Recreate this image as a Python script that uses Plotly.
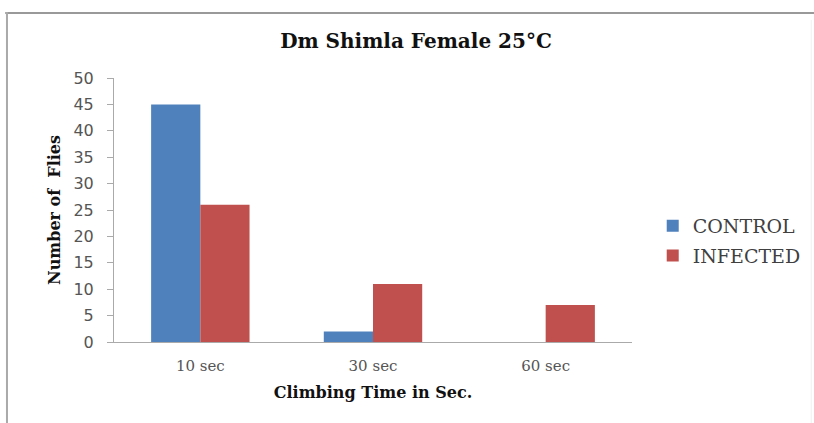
import plotly.graph_objects as go

categories = ["10 sec", "30 sec", "60 sec"]
control = [45, 2, 0]
infected = [26, 11, 7]
y_ticks = [0, 5, 10, 15, 20, 25, 30, 35, 40, 45, 50]

serif = "DejaVu Serif, Liberation Serif, serif"
sans = "DejaVu Sans, Verdana, sans-serif"

fig = go.Figure()
fig.add_trace(go.Bar(x=categories, y=control, name="CONTROL", marker_color="#4F81BD",
                     marker_line_width=0, legendgroup="a"))
fig.add_trace(go.Bar(x=categories, y=infected, name="INFECTED", marker_color="#C0504D",
                     marker_line_width=0, legendgroup="b"))

fig.update_layout(
    width=814, height=423,
    margin=dict(l=114, r=182, t=78, b=81, autoexpand=False),
    paper_bgcolor="white", plot_bgcolor="white",
    barmode="group", bargap=0.43, bargroupgap=0,
    title=dict(text="<b>Dm Shimla Female 25°C</b>", x=0.583, xanchor="center",
               xref="paper", y=0.903, yref="container", yanchor="middle",
               font=dict(family=serif, size=20, color="#111111")),
    legend=dict(x=1.04, xanchor="left", y=0.383, yanchor="middle",
                font=dict(family=serif, size=19, color="#404040"),
                tracegroupgap=2, traceorder="grouped", itemwidth=30,
                bgcolor="rgba(0,0,0,0)"),
    showlegend=True,
)
fig.update_xaxes(showline=True, linecolor="#aaaaaa", linewidth=1, ticks="",
                 ticklabelstandoff=10,
                 tickfont=dict(family=serif, size=15, color="#555555"),
                 title=dict(text="<b>Climbing Time in Sec.</b>", standoff=12,
                            font=dict(family=serif, size=16, color="#111111")),
                 showgrid=False)
fig.update_yaxes(range=[0, 50], tickvals=y_ticks, showline=True, linecolor="#aaaaaa",
                 linewidth=1, ticks="outside", ticklen=6, tickcolor="#aaaaaa",
                 ticklabelstandoff=10,
                 tickfont=dict(family=sans, size=16, color="#555555"),
                 title=dict(text="<b>Number of  Flies</b>", standoff=8,
                            font=dict(family=serif, size=16, color="#111111")),
                 showgrid=False, zeroline=False)

fig.add_shape(type="line", xref="paper", yref="paper", x0=-0.21, x1=1.5,
              y0=1.246, y1=1.246, line=dict(color="#999999", width=2))
fig.add_shape(type="line", xref="paper", yref="paper", x0=-0.2066, x1=-0.2066,
              y0=1.25, y1=-0.35, line=dict(color="#aaaaaa", width=2))
fig.add_shape(type="line", xref="paper", yref="paper", x0=1.346, x1=1.346,
              y0=1.22, y1=-0.35, line=dict(color="#f0f0f0", width=1))

fig.write_html("out.html", config={"displayModeBar": False},
               post_script="document.body.style.margin='0';")
